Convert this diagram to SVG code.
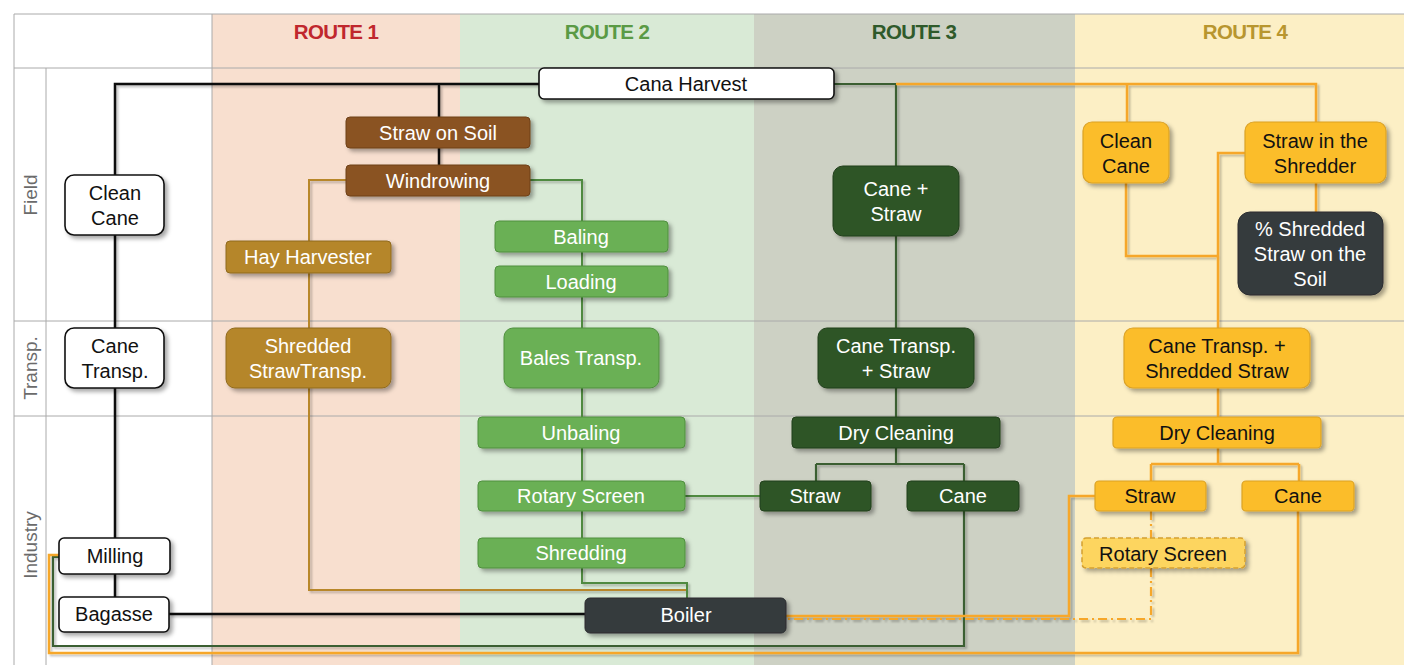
<svg xmlns="http://www.w3.org/2000/svg" width="1404" height="665" viewBox="0 0 1404 665">
<style>
text{font-family:"Liberation Sans",Arial,sans-serif;font-size:20px;text-anchor:middle}
.hdr{font-weight:bold;font-size:20.5px;letter-spacing:-0.6px}
.row{fill:#6b6b6b;font-size:19px}
.grid{stroke:#aaaaaa;stroke-width:1;fill:none}
.n rect{filter:url(#sh)}
.wh{fill:#ffffff;stroke:#111;stroke-width:1.6}
.br{fill:#8a5224;stroke:#6e4019;stroke-width:1}
.hy{fill:#b5862a;stroke:#8f6a1f;stroke-width:1}
.lg{fill:#6ab055;stroke:#4f8f3f;stroke-width:1}
.dg{fill:#2f5427;stroke:#22401c;stroke-width:1}
.dk{fill:#363a3d;stroke:#2a2d30;stroke-width:1}
.yl{fill:#fbbd2b;stroke:#dba226;stroke-width:1.2}
.yd{fill:#fdd55f;stroke:#d4a030;stroke-width:1.5;stroke-dasharray:5,3}
.tw{fill:#ffffff}
.tb{fill:#111111}
.c path{fill:none;stroke-linejoin:miter}
.k{stroke:#111;stroke-width:2.5}
.r1{stroke:#b8872a;stroke-width:2}
.r2{stroke:#4f8a3f;stroke-width:2}
.r3{stroke:#3b5f30;stroke-width:2.2}
.r4{stroke:#f6a72a;stroke-width:2.5}
.r4d{stroke:#f6a72a;stroke-width:2.2;stroke-dasharray:9,4,2,4}
</style>
<defs>
<filter id="sh" x="-20%" y="-30%" width="140%" height="170%">
<feDropShadow dx="3" dy="3" stdDeviation="2" flood-color="#000" flood-opacity="0.35"/>
</filter>
<filter id="lsh" x="-5%" y="-5%" width="110%" height="110%">
<feDropShadow dx="2" dy="2" stdDeviation="1" flood-color="#000" flood-opacity="0.25"/>
</filter>
</defs>

<g id="background">
<rect x="0" y="0" width="1404" height="665" fill="#ffffff"/>
<rect x="212" y="14" width="248" height="651" fill="#f8dfcf"/>
<rect x="460" y="14" width="294" height="651" fill="#d9ead6"/>
<rect x="754" y="14" width="321" height="651" fill="#cdd1c4"/>
<rect x="1075" y="14" width="329" height="651" fill="#fcefc5"/>
<path class="grid" d="M14,665 V14 H1404 M14,68 H1404 M14,321 H1404 M14,416 H1404 M46,68 V665 M212,14 V665"/>
</g>

<g id="headers">
<text class="hdr" x="336" y="39" fill="#c0272d">ROUTE 1</text>
<text class="hdr" x="607" y="39" fill="#5a9a45">ROUTE 2</text>
<text class="hdr" x="914" y="39" fill="#2f5a2b">ROUTE 3</text>
<text class="hdr" x="1245" y="39" fill="#b8962f">ROUTE 4</text>
<text class="row" transform="translate(37,195) rotate(-90)">Field</text>
<text class="row" transform="translate(37,368) rotate(-90)">Transp.</text>
<text class="row" transform="translate(37,545) rotate(-90)">Industry</text>
</g>

<g id="connectors" class="c" filter="url(#lsh)">
<path class="r3" d="M964,511 V646 H53 V557 H59"/>
<path class="r4" d="M1298,511 V653 H49 V555 H59"/>
<path class="k" d="M539,84 H115 V175 M439,84 V165 M115,235 V328 M115,388 V538 M115,574 V597 M169,614 H585"/>
<path class="r1" d="M346,180 H309 V590 H687 V598"/>
<path class="r2" d="M530,180 H582 V221 M582,252 V266 M582,297 V328 M582,388 V417 M582,448 V481 M582,511 V538 M582,568 V583 H687 V598 M685,496 H760"/>
<path class="r3" d="M834,84 H896 V166 M896,236 V328 M896,388 V417 M896,448 V464 M816,464 H964 M816,464 V481 M964,464 V481"/>
<path class="r4" d="M896,84 H1316 V122 M1127,84 V122 M1126,183 V256 H1218 M1245,153 H1218 V328 M1316,183 V212 M1218,388 V417 M1218,448 V464 M1151,464 H1299 M1151,464 V481 M1299,464 V481 M1095,496 H1069 V616 H786"/>
<path class="r4d" d="M1151,511 V538 M1151,568 V619 H786"/>
</g>

<g id="cana-harvest" class="n"><rect class="wh" x="539" y="68" width="295" height="31" rx="5"/><text class="tb" x="686" y="91">Cana Harvest</text></g>
<g id="clean-cane" class="n"><rect class="wh" x="65" y="175" width="99" height="60" rx="9"/><text class="tb" x="115" y="200">Clean</text><text class="tb" x="115" y="225">Cane</text></g>
<g id="cane-transp" class="n"><rect class="wh" x="65" y="328" width="99" height="60" rx="9"/><text class="tb" x="115" y="353">Cane</text><text class="tb" x="115" y="378">Transp.</text></g>
<g id="milling" class="n"><rect class="wh" x="59" y="538" width="111" height="36" rx="5"/><text class="tb" x="115" y="563">Milling</text></g>
<g id="bagasse" class="n"><rect class="wh" x="59" y="597" width="110" height="35" rx="5"/><text class="tb" x="114" y="621">Bagasse</text></g>

<g id="straw-on-soil" class="n"><rect class="br" x="346" y="117" width="184" height="31" rx="4"/><text class="tw" x="438" y="140">Straw on Soil</text></g>
<g id="windrowing" class="n"><rect class="br" x="346" y="165" width="184" height="31" rx="4"/><text class="tw" x="438" y="188">Windrowing</text></g>
<g id="hay-harvester" class="n"><rect class="hy" x="226" y="241" width="165" height="32" rx="4"/><text class="tw" x="308" y="264">Hay Harvester</text></g>
<g id="shredded-straw-transp" class="n"><rect class="hy" x="226" y="328" width="165" height="60" rx="9"/><text class="tw" x="308" y="353">Shredded</text><text class="tw" x="308" y="378">StrawTransp.</text></g>

<g id="baling" class="n"><rect class="lg" x="495" y="221" width="173" height="31" rx="4"/><text class="tw" x="581" y="244">Baling</text></g>
<g id="loading" class="n"><rect class="lg" x="495" y="266" width="173" height="31" rx="4"/><text class="tw" x="581" y="289">Loading</text></g>
<g id="bales-transp" class="n"><rect class="lg" x="504" y="328" width="155" height="60" rx="9"/><text class="tw" x="581" y="365">Bales Transp.</text></g>
<g id="unbaling" class="n"><rect class="lg" x="478" y="417" width="207" height="31" rx="4"/><text class="tw" x="581" y="440">Unbaling</text></g>
<g id="rotary-screen-2" class="n"><rect class="lg" x="478" y="481" width="207" height="30" rx="4"/><text class="tw" x="581" y="503">Rotary Screen</text></g>
<g id="shredding" class="n"><rect class="lg" x="478" y="538" width="207" height="30" rx="4"/><text class="tw" x="581" y="560">Shredding</text></g>
<g id="boiler" class="n"><rect class="dk" x="585" y="598" width="201" height="35" rx="5"/><text class="tw" x="686" y="622">Boiler</text></g>

<g id="cane-straw" class="n"><rect class="dg" x="833" y="166" width="126" height="70" rx="10"/><text class="tw" x="896" y="196">Cane +</text><text class="tw" x="896" y="221">Straw</text></g>
<g id="cane-transp-straw" class="n"><rect class="dg" x="818" y="328" width="156" height="60" rx="9"/><text class="tw" x="896" y="353">Cane Transp.</text><text class="tw" x="896" y="378">+ Straw</text></g>
<g id="dry-cleaning-3" class="n"><rect class="dg" x="792" y="417" width="208" height="31" rx="4"/><text class="tw" x="896" y="440">Dry Cleaning</text></g>
<g id="straw-3" class="n"><rect class="dg" x="760" y="481" width="111" height="30" rx="4"/><text class="tw" x="815" y="503">Straw</text></g>
<g id="cane-3" class="n"><rect class="dg" x="907" y="481" width="112" height="30" rx="4"/><text class="tw" x="963" y="503">Cane</text></g>

<g id="clean-cane-4" class="n"><rect class="yl" x="1083" y="122" width="86" height="61" rx="9"/><text class="tb" x="1126" y="148">Clean</text><text class="tb" x="1126" y="173">Cane</text></g>
<g id="straw-in-shredder" class="n"><rect class="yl" x="1245" y="122" width="141" height="61" rx="9"/><text class="tb" x="1315" y="148">Straw in the</text><text class="tb" x="1315" y="173">Shredder</text></g>
<g id="shredded-on-soil" class="n"><rect class="dk" x="1238" y="212" width="145" height="83" rx="12"/><text class="tw" x="1310" y="236">% Shredded</text><text class="tw" x="1310" y="261">Straw on the</text><text class="tw" x="1310" y="286">Soil</text></g>
<g id="cane-transp-shredded" class="n"><rect class="yl" x="1124" y="328" width="186" height="60" rx="9"/><text class="tb" x="1217" y="353">Cane Transp. +</text><text class="tb" x="1217" y="378">Shredded Straw</text></g>
<g id="dry-cleaning-4" class="n"><rect class="yl" x="1113" y="417" width="208" height="31" rx="4"/><text class="tb" x="1217" y="440">Dry Cleaning</text></g>
<g id="straw-4" class="n"><rect class="yl" x="1095" y="481" width="111" height="30" rx="4"/><text class="tb" x="1150" y="503">Straw</text></g>
<g id="cane-4" class="n"><rect class="yl" x="1242" y="481" width="112" height="30" rx="4"/><text class="tb" x="1298" y="503">Cane</text></g>
<g id="rotary-screen-4" class="n"><rect class="yd" x="1082" y="538" width="163" height="30" rx="4"/><text class="tb" x="1163" y="561">Rotary Screen</text></g>
</svg>
